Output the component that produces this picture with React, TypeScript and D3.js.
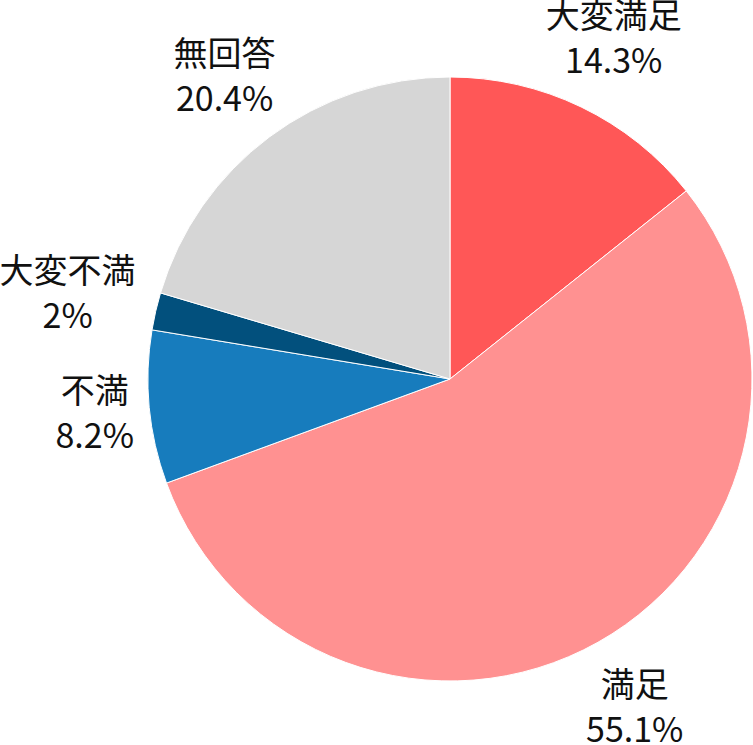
import React from 'react'
import * as d3 from 'd3'

const categories = ['大変満足', '満足', '不満', '大変不満', '無回答']
const values = [14.3, 55.1, 8.2, 2, 20.4]
const colors = ['#ff5757', '#ff9191', '#177cbd', '#02507d', '#d6d6d6']

const W = 753
const H = 745
const cx = 450
const cy = 379
const radius = 302
const labelRadius = 377

// small hand nudges so the left labels sit like the original
const labelNudge: Record<string, number> = { '不満': 20, '大変不満': -15 }

export default function App() {
    const data = categories.map((c, i) => ({ name: c, value: values[i], color: colors[i] }))

    const pie = d3.pie<any>().sort(null).value(d => d.value)
    const arcs = pie(data)
    const arc = d3.arc<any>().innerRadius(0).outerRadius(radius)
    const labelArc = d3.arc<any>().innerRadius(labelRadius).outerRadius(labelRadius)

    return (
        <svg width={W} height={H} style={{ position: 'absolute', left: 0, top: 0, background: '#fff' }}>
            <g transform={`translate(${cx},${cy})`}>
                {arcs.map((a, i) => (
                    <path key={i} d={arc(a) || ''} fill={a.data.color} stroke='#fff' strokeWidth={1} />
                ))}
                {arcs.map((a, i) => {
                    const [x, y] = labelArc.centroid(a)
                    const lx = x + (labelNudge[a.data.name] || 0)
                    return (
                        <text key={i} x={lx} y={y} textAnchor='middle'
                            fontFamily='"Noto Sans CJK JP", "Noto Sans", sans-serif' fontSize={34} fill='#111'>
                            <tspan x={lx} dy={-11}>{a.data.name}</tspan>
                            <tspan x={lx} dy={45}>{a.data.value}%</tspan>
                        </text>
                    )
                })}
            </g>
        </svg>
    )
}
